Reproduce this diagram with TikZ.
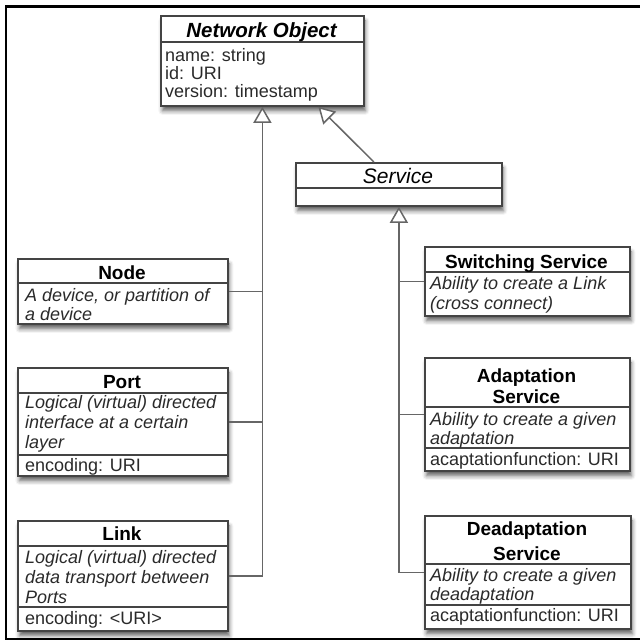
\documentclass[tikz,border=0pt]{standalone}
\usepackage{fontspec}
\setmainfont{Liberation Sans}
\usetikzlibrary{arrows.meta,shadows.blur,calc}
\definecolor{boxc}{HTML}{444444}
\definecolor{wirec}{HTML}{666666}
\definecolor{txt}{HTML}{2A2A2A}
\tikzset{
  box/.style={draw=boxc, line width=1.8pt, fill=white, anchor=north west, inner sep=0pt,
    blur shadow={shadow xshift=1.5pt, shadow yshift=-5pt, shadow blur radius=4pt, shadow opacity=60}},
  ttl/.style={font=\fontsize{19}{19}\selectfont\bfseries, text=black, anchor=base, inner sep=0pt},
  absttl/.style={font=\fontsize{20.5}{20.5}\selectfont\bfseries\itshape, text=black, anchor=base, inner sep=0pt},
  body/.style={font=\fontsize{18}{19}\selectfont\itshape, text=txt, anchor=base west, inner sep=0pt},
  attr/.style={font=\fontsize{18}{18}\selectfont, text=txt, anchor=base west, inner sep=0pt},
  div/.style={draw=boxc, line width=1.5pt},
  wire/.style={draw=wirec, line width=1.5pt},
  gen/.style={wire, -{Triangle[open, fill=white, length=16pt, width=18pt, line width=1.5pt]}},
}
\newcommand\clsdiv[2]{\draw[div] (#1.west |- 0,-#2) -- (#1.east |- 0,-#2);}
\begin{document}
\begin{tikzpicture}[x=1pt,y=1pt]
\useasboundingbox (0,0) rectangle (640,-641);
% frame
\draw[line width=2.5pt, line cap=rect] (641,-6.5) -- (6,-6.5) -- (6,-639) -- (641,-639);

% Network Object
\node[box, minimum width=203pt, minimum height=90pt] (netobj) at (160,-15) {};
\clsdiv{netobj}{42}
\node[absttl] (netobjT) at (261.5,-37) {Network Object};
\node[attr] (netobjA1) at (165,-61) {name: string};
\node[attr] (netobjA2) at (165,-79) {id: URI};
\node[attr] (netobjA3) at (165,-97) {version: timestamp};

% Service
\node[box, minimum width=206pt, minimum height=43pt] (service) at (295,-162) {};
\clsdiv{service}{188}
\node[font=\fontsize{21}{21}\selectfont\itshape, text=black, anchor=base, inner sep=0pt] (serviceT) at (398,-183) {Service};

% Node
\node[box, minimum width=210pt, minimum height=65pt] (nodebox) at (17,-258) {};
\clsdiv{nodebox}{283}
\node[ttl] (nodeT) at (122,-279) {Node};
\node[body] (nodeB1) at (25,-301) {A device, or partition of};
\node[body] (nodeB2) at (25,-320) {a device};

% Port
\node[box, minimum width=210pt, minimum height=108pt] (portbox) at (17,-367) {};
\clsdiv{portbox}{393}
\clsdiv{portbox}{455}
\node[ttl] (portT) at (122,-388) {Port};
\node[body] (portB1) at (25,-408) {Logical (virtual) directed};
\node[body] (portB2) at (25,-428) {interface at a certain};
\node[body] (portB3) at (25,-448) {layer};
\node[attr] (portA1) at (25,-471) {encoding: URI};

% Link
\node[box, minimum width=210pt, minimum height=110pt] (linkbox) at (17,-520) {};
\clsdiv{linkbox}{546}
\clsdiv{linkbox}{607}
\node[ttl] (linkT) at (122,-540) {Link};
\node[body] (linkB1) at (25,-563) {Logical (virtual) directed};
\node[body] (linkB2) at (25,-583) {data transport between};
\node[body] (linkB3) at (25,-603) {Ports};
\node[attr] (linkA1) at (25,-624) {encoding: <URI>};

% Switching Service
\node[box, minimum width=205pt, minimum height=69pt] (switchbox) at (424,-246) {};
\clsdiv{switchbox}{272}
\node[ttl] (switchT) at (526.5,-268) {Switching Service};
\node[body] (switchB1) at (430,-289) {Ability to create a Link};
\node[body] (switchB2) at (430,-309) {(cross connect)};

% Adaptation Service
\node[box, minimum width=205pt, minimum height=113pt] (adaptbox) at (424,-357) {};
\clsdiv{adaptbox}{407}
\clsdiv{adaptbox}{448}
\node[ttl] (adaptT1) at (526.5,-382) {Adaptation};
\node[ttl] (adaptT2) at (526.5,-403) {Service};
\node[body] (adaptB1) at (430,-425) {Ability to create a given};
\node[body] (adaptB2) at (430,-444) {adaptation};
\node[attr] (adaptA1) at (430,-465) {acaptationfunction: URI};

% Deadaptation Service
\node[box, minimum width=206pt, minimum height=113pt] (deadbox) at (424,-515) {};
\clsdiv{deadbox}{564}
\clsdiv{deadbox}{605}
\node[ttl] (deadT1) at (527,-535) {Deadaptation};
\node[ttl] (deadT2) at (527,-560) {Service};
\node[body] (deadB1) at (430,-581) {Ability to create a given};
\node[body] (deadB2) at (430,-600) {deadaptation};
\node[attr] (deadA1) at (430,-621) {acaptationfunction: URI};

% connectors
\draw[gen] (linkbox.east) -| (netobj.south);
\draw[wire] (nodebox.east) -- (nodebox.east -| netobj.south);
\draw[wire] (portbox.east) -- (portbox.east -| netobj.south);
\draw[gen] (deadbox.west) -| (service.south);
\draw[wire] (switchbox.west) -- (switchbox.west -| service.south);
\draw[wire] (adaptbox.west) -- (adaptbox.west -| service.south);
\coordinate (svtail) at ([xshift=-25pt]service.north);
\coordinate (svhead) at ([xshift=56pt]netobj.south);
\draw[gen] (svtail) -- (svhead);
\end{tikzpicture}
\end{document}
